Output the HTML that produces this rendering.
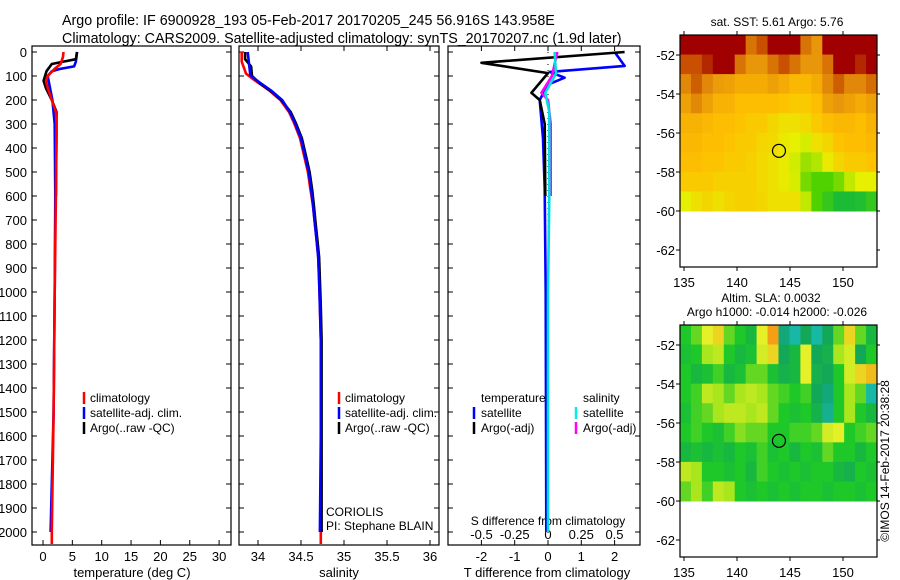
<!DOCTYPE html>
<html><head><meta charset="utf-8"><style>
body{margin:0;background:#fff;}
svg{display:block;font-family:"Liberation Sans",sans-serif;}
</style></head><body>
<svg id="fig" width="900" height="580" viewBox="0 0 900 580" xmlns="http://www.w3.org/2000/svg">
<text x="62" y="25" font-size="14.3">Argo profile: IF 6900928_193 05-Feb-2017 20170205_245 56.916S 143.958E</text>
<text x="62" y="43" font-size="14.3">Climatology: CARS2009. Satellite-adjusted climatology: synTS_20170207.nc (1.9d later)</text>
<g id="g"></g>
</svg>
<script>
// ---- data ----
const depthTicks=[0,100,200,300,400,500,600,700,800,900,1000,1100,1200,1300,1400,1500,1600,1700,1800,1900,2000];
const tempTicks=[0,5,10,15,20,25,30];
const salTicks=[34,34.5,35,35.5,36];
const salTickLabels=["34","34.5","35","35.5","36"];
const tdTicks=[-2,-1,0,1,2];
const sdTicks=[-0.5,-0.25,0,0.25,0.5];
const sdTickLabels=["-0.5","-0.25","0","0.25","0.5"];
const tClimDepth=[0,20,50,70,100,120,150,200,250,300,600,1000,1500,2000,2050];
const tClimVal=[3.5,3.4,3.0,2.0,0.8,0.5,0.8,1.5,2.2,2.3,2.2,2.0,1.8,1.5,1.5];
const tSatDepth=[0,40,60,70,80,100,150,200,300,600,1000,1500,2000];
const tSatVal=[5.8,5.6,5.3,3.0,1.5,0.8,1.2,1.6,2.0,2.1,2.0,1.8,1.3];
const tArgoDepth=[0,30,40,50,80,120,150,200,250,350,600];
const tArgoVal=[5.8,5.6,3.5,1.5,0.6,0.1,0.5,1.5,2.3,2.3,2.2];
const sClimDepth=[0,40,90,115,130,160,200,250,296,360,437,500,575,640,713,780,854,950,1062,1200,1337,1600,2000,2050];
const sClimVal=[33.81,33.81,33.86,33.95,34.01,34.13,34.26,34.36,34.42,34.49,34.54,34.58,34.61,34.64,34.66,34.68,34.7,34.71,34.72,34.73,34.73,34.73,34.73,34.73];
const sSatDepth=[0,96,117,130,160,200,250,296,360,437,500,575,640,713,780,854,950,1062,1200,1337,1600,2000];
const sSatVal=[33.88,33.91,33.98,34.03,34.15,34.28,34.37,34.43,34.5,34.55,34.59,34.62,34.64,34.66,34.68,34.7,34.71,34.72,34.73,34.73,34.73,34.72];
const sArgoDepth=[0,30,60,100,130,160,200,250,296,360,437,500,575,640,713,780,854,950,1062,1200,1337,1600,2000];
const sArgoVal=[33.85,33.85,33.92,33.93,34.02,34.14,34.27,34.38,34.44,34.51,34.56,34.6,34.63,34.65,34.67,34.69,34.71,34.72,34.73,34.74,34.74,34.74,34.74];
const dTSatDepth=[0,58,83,107,136,200,360,570,1000,2000];
const dTSatVal=[2.0,2.3,0.05,0.5,0.0,-0.25,-0.15,-0.1,-0.07,-0.05];
const dTArgoDepth=[0,45,88,170,200,300,600];
const dTArgoVal=[2.3,-2.0,0.0,-0.5,-0.25,-0.1,-0.08];
const dSSatDepth=[0,90,170,250,600,1000,2000];
const dSSatVal=[0.05,0.06,-0.02,0.01,0.01,0.0,0.0];
const dSArgoDepth=[0,100,170,200,300,600];
const dSArgoVal=[0.07,0.03,-0.05,0.0,0.02,0.02];
const lonTicks=[135,140,145,150];
const latTicks=[-52,-54,-56,-58,-60,-62];
const sstGrid=[
[1,1,1,1,1,1,0.85,0.9,1,1,1,0.85,0.8,1,1,1,1,1],
[0.9,0.9,0.95,1,1,0.85,0.8,0.8,0.85,0.9,0.85,0.8,0.8,0.85,1,1,0.95,1],
[0.82,0.88,0.82,0.78,0.76,0.72,0.72,0.72,0.76,0.72,0.68,0.68,0.72,0.82,0.88,0.82,0.82,0.86],
[0.76,0.82,0.76,0.7,0.7,0.66,0.66,0.66,0.66,0.64,0.62,0.62,0.66,0.76,0.8,0.76,0.72,0.76],
[0.7,0.7,0.68,0.66,0.66,0.64,0.62,0.62,0.58,0.55,0.55,0.57,0.62,0.66,0.68,0.68,0.66,0.7],
[0.68,0.68,0.66,0.66,0.64,0.62,0.62,0.58,0.57,0.52,0.5,0.48,0.55,0.58,0.64,0.66,0.66,0.68],
[0.66,0.66,0.64,0.64,0.62,0.62,0.6,0.57,0.55,0.52,0.47,0.4,0.43,0.52,0.58,0.62,0.62,0.64],
[0.62,0.62,0.62,0.6,0.6,0.6,0.6,0.57,0.55,0.52,0.48,0.35,0.3,0.3,0.35,0.45,0.5,0.5],
[0.5,0.55,0.58,0.55,0.58,0.6,0.6,0.58,0.55,0.55,0.55,0.45,0.3,0.2,0.1,0.1,0.12,0.2]];
const slaGrid=[
[0.5,0.6,0.85,0.9,0.6,0.5,0.4,0.85,1,0.2,0.1,0.3,0.1,0.3,0.6,0.9,0.6,0.4],
[0.45,0.5,0.7,0.75,0.5,0.4,0.45,0.8,0.9,0.3,0.4,0.85,0.3,0.35,0.7,0.8,0.3,0.5],
[0.5,0.4,0.45,0.55,0.4,0.45,0.6,0.6,0.45,0.35,0.4,0.85,0.35,0.3,0.5,0.8,0.9,0.95],
[0.5,0.55,0.75,0.7,0.6,0.7,0.75,0.7,0.6,0.55,0.5,0.55,0.3,0.2,0.5,0.7,0.6,0.1],
[0.45,0.55,0.6,0.7,0.75,0.75,0.7,0.75,0.6,0.5,0.45,0.5,0.35,0.15,0.5,0.7,0.5,0.4],
[0.5,0.55,0.5,0.45,0.55,0.65,0.6,0.6,0.5,0.5,0.55,0.55,0.6,0.8,0.85,0.5,0.55,0.6],
[0.4,0.45,0.4,0.45,0.4,0.5,0.45,0.55,0.45,0.5,0.4,0.5,0.45,0.6,0.5,0.5,0.4,0.5],
[0.75,0.7,0.5,0.5,0.45,0.5,0.4,0.55,0.5,0.45,0.5,0.45,0.5,0.5,0.4,0.35,0.5,0.45],
[0.6,0.7,0.55,0.75,0.7,0.5,0.45,0.5,0.45,0.5,0.45,0.5,0.5,0.45,0.5,0.5,0.45,0.5]];
const floatLon=143.958, floatLat=-56.916;

// ---- helpers ----
const NS="http://www.w3.org/2000/svg";
const G=document.getElementById('g');
function mk(tag,at,parent){const e=document.createElementNS(NS,tag);for(const k in at)e.setAttribute(k,at[k]);(parent||G).appendChild(e);return e;}
function txt(x,y,s,size,anchor){const e=mk('text',{x:x,y:y,'font-size':size||13,'text-anchor':anchor||'start'});e.textContent=s;return e;}
const Y=d=>52+d*0.24;
const PTOP=46,PBOT=545;
function panel(x0,x1,name){
  const r=mk('rect',{x:x0,y:PTOP,width:x1-x0,height:PBOT-PTOP,fill:'none',stroke:'#000','stroke-width':1.2});
  
  
  depthTicks.forEach(d=>{mk('line',{x1:x0,x2:x0+5,y1:Y(d),y2:Y(d),stroke:'#000'});mk('line',{x1:x1-5,x2:x1,y1:Y(d),y2:Y(d),stroke:'#000'});});
}
function line(xs,ds,X,color,name){
  const p=xs.map((v,i)=>X(v).toFixed(1)+','+Y(ds[i]).toFixed(1)).join(' ');
  const e=mk('polyline',{points:p,fill:'none',stroke:color,'stroke-width':2.6,'stroke-linejoin':'round'});
  
  
}
function legendMark(x,y,color){mk('line',{x1:x,x2:x,y1:y-10,y2:y+2,stroke:color,'stroke-width':2.5});}

// ---- panel 1: temperature ----
const XT=v=>43+v*5.87;
panel(32,231,'temperature-panel');
depthTicks.forEach(d=>{const t=txt(27,Y(d)+5,String(d),13,'end');});
tempTicks.forEach(v=>{mk('line',{x1:XT(v),x2:XT(v),y1:PBOT,y2:PBOT-5,stroke:'#000'});txt(XT(v),561,String(v),13,'middle');});
{const t=txt(132,577,'temperature (deg C)',13,'middle');}
line(tSatVal,tSatDepth,XT,'#0000ff','temp-satellite-line');
line(tArgoVal,tArgoDepth,XT,'#000','temp-argo-line');
line(tClimVal,tClimDepth,XT,'#ff0000','temp-climatology-line');
legendMark(84,402,'#f00');txt(90,402,'climatology',12);
legendMark(84,417,'#00f');txt(90,417,'satellite-adj. clim.',12);
legendMark(84,432,'#000');txt(90,432,'Argo(..raw -QC)',12);

// ---- panel 2: salinity ----
const XS=v=>258+(v-34)*86;
panel(239,439,'salinity-panel');
salTicks.forEach((v,i)=>{mk('line',{x1:XS(v),x2:XS(v),y1:PBOT,y2:PBOT-5,stroke:'#000'});mk('line',{x1:XS(v),x2:XS(v),y1:PTOP,y2:PTOP+5,stroke:'#000'});txt(XS(v),561,salTickLabels[i],13,'middle');});
{const t=txt(339,577,'salinity',13,'middle');}
line(sClimVal,sClimDepth,XS,'#ff0000','sal-climatology-line');
line(sArgoVal,sArgoDepth,XS,'#000','sal-argo-line');
line(sSatVal,sSatDepth,XS,'#0000ff','sal-satellite-line');
legendMark(339,402,'#f00');txt(345,402,'climatology',12);
legendMark(339,417,'#00f');txt(345,417,'satellite-adj. clim.',12);
legendMark(339,432,'#000');txt(345,432,'Argo(..raw -QC)',12);
txt(326,516,'CORIOLIS',12);txt(326,530,'PI: Stephane BLAIN',12);

// ---- panel 3: differences ----
const XD=v=>548+v*33.3;
const XSD=v=>548+v*133;
panel(448,640,'difference-panel');
tdTicks.forEach(v=>{mk('line',{x1:XD(v),x2:XD(v),y1:PBOT,y2:PBOT-5,stroke:'#000'});mk('line',{x1:XD(v),x2:XD(v),y1:PTOP,y2:PTOP+5,stroke:'#000'});txt(XD(v),561,String(v),13,'middle');});
sdTicks.forEach((v,i)=>{txt(XSD(v),539,sdTickLabels[i],13,'middle');});
txt(548,525,'S difference from climatology',12,'middle');
{const t=txt(547,577,'T difference from climatology',13,'middle');}
for(let d=0;d<=2000;d+=25)mk('rect',{x:547.5,y:Y(d),width:1,height:1,fill:'#000'});
line(dTSatVal,dTSatDepth,XD,'#0000ff','tdiff-satellite-line');
line(dTArgoVal,dTArgoDepth,XD,'#000','tdiff-argo-line');
line(dSArgoVal,dSArgoDepth,XSD,'#ff00ff','sdiff-argo-line');
line(dSSatVal,dSSatDepth,XSD,'#00e0e0','sdiff-satellite-line');
txt(481,402,'temperature',12);txt(583,402,'salinity',12);
legendMark(474,417,'#00f');txt(481,417,'satellite',12);
legendMark(576,417,'#0ee');txt(583,417,'satellite',12);
legendMark(474,432,'#000');txt(481,432,'Argo(-adj)',12);
legendMark(576,432,'#f0f');txt(583,432,'Argo(-adj)',12);

// ---- maps ----
function lerpC(stops,v){
  for(let i=1;i<stops.length;i++){if(v<=stops[i][0]){const a=stops[i-1],b=stops[i],t=(v-a[0])/(b[0]-a[0]||1);
    return 'rgb('+[0,1,2].map(k=>Math.round(a[1][k]+(b[1][k]-a[1][k])*t)).join(',')+')';}}
  const l=stops[stops.length-1][1];return 'rgb('+l.join(',')+')';}
const sstStops=[[0,[0,176,80]],[0.3,[80,210,0]],[0.5,[230,240,0]],[0.65,[255,192,0]],[0.8,[232,150,10]],[0.9,[200,80,0]],[1,[160,0,0]]];
const slaStops=[[0,[30,200,210]],[0.25,[16,160,100]],[0.5,[30,200,40]],[0.7,[170,230,30]],[0.85,[230,240,40]],[1,[245,160,20]]];
function map(top,grid,stops,name){
  const x0=680,x1=877,bot=top+232;
  const LX=lon=>684+(lon-135)*10.6;
  const LY=lat=>top+20+(-52-lat)*19.5;
  const rows=grid.length,cols=grid[0].length;
  const cw=(x1-x0)/cols, dataBot=LY(-60), ch=(dataBot-top)/rows;
  const g=mk('g',{});
  
  
  grid.forEach((row,r)=>row.forEach((v,c)=>{
    const cell=mk('rect',{x:x0+c*cw,y:top+r*ch,width:cw+0.5,height:ch+0.5,fill:lerpC(stops,v)},g);
    
    
  }));
  mk('rect',{x:x0,y:top,width:x1-x0,height:bot-top,fill:'none',stroke:'#000','stroke-width':1.2});
  latTicks.forEach(l=>{mk('line',{x1:x0-4,x2:x0,y1:LY(l),y2:LY(l),stroke:'#000'});mk('line',{x1:x1,x2:x1+3,y1:LY(l),y2:LY(l),stroke:'#000'});txt(675,LY(l)+5,String(l),13,'end');});
  lonTicks.forEach(l=>{mk('line',{x1:LX(l),x2:LX(l),y1:bot,y2:bot+4,stroke:'#000'});mk('line',{x1:LX(l),x2:LX(l),y1:top-4,y2:top,stroke:'#000'});txt(LX(l),bot+20,String(l),13,'middle');});
  const c=mk('circle',{cx:LX(floatLon),cy:LY(floatLat),r:6.5,fill:'none',stroke:'#000','stroke-width':1.2});
  
  
}
map(35,sstGrid,sstStops,'sst-map');
txt(777,26,'sat. SST: 5.61  Argo: 5.76',12,'middle');
map(325,slaGrid,slaStops,'sla-map');
txt(771,302,'Altim. SLA: 0.0032',12,'middle');
txt(777,316,'Argo h1000: -0.014 h2000: -0.026',12,'middle');
{const t=mk('text',{x:0,y:0,'font-size':12,'text-anchor':'middle',transform:'translate(889,461) rotate(-90)'});t.textContent='©IMOS 14-Feb-2017 20:38:28';
}
</script>
</body></html>
